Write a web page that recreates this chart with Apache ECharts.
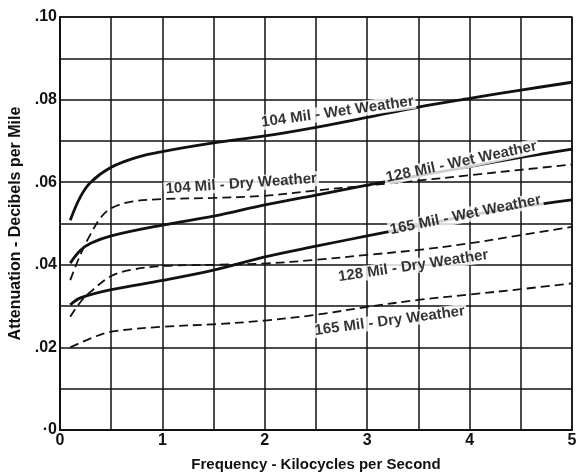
<!DOCTYPE html>
<html>
<head>
<meta charset="utf-8">
<script src="https://cdn.jsdelivr.net/npm/echarts@6/dist/echarts.min.js"></script>
<style>
  html, body { margin: 0; padding: 0; background: #fff; }
  #chart { width: 576px; height: 474px; }
</style>
</head>
<body>
<div id="chart"></div>
<script>
// frequency (kc) / attenuation (db per mile)
var wet104 = [[0.1,0.0508],[0.2,0.0565],[0.3,0.0600],[0.5,0.0636],[0.75,0.0660],[1,0.0674],[1.5,0.0695],[2,0.0712],[2.5,0.0733],[3,0.0757],[3.5,0.0782],[4,0.0803],[4.5,0.0823],[5,0.0842]];
var dry104 = [[0.1,0.0363],[0.2,0.0425],[0.3,0.0475],[0.4,0.0515],[0.5,0.0537],[0.7,0.0553],[1,0.0559],[1.5,0.0562],[2,0.0567],[2.5,0.0580],[3,0.0592],[3.5,0.0604],[4,0.0617],[4.5,0.0630],[5,0.0643]];
var wet128 = [[0.1,0.0404],[0.2,0.0435],[0.3,0.0452],[0.5,0.0470],[1,0.0496],[1.5,0.0518],[2,0.0545],[2.5,0.0569],[3,0.0593],[3.5,0.0616],[4,0.0638],[4.5,0.0660],[5,0.0680]];
var dry128 = [[0.1,0.0274],[0.2,0.0310],[0.3,0.0335],[0.5,0.0373],[0.7,0.0388],[1,0.0397],[1.5,0.0400],[2,0.0403],[2.5,0.0412],[3,0.0424],[3.5,0.0436],[4,0.0452],[4.5,0.0472],[5,0.0492]];
var wet165 = [[0.1,0.0303],[0.2,0.0320],[0.5,0.0340],[1,0.0362],[1.5,0.0387],[2,0.0419],[2.5,0.0445],[3,0.0470],[3.5,0.0494],[4,0.0520],[4.5,0.0540],[5,0.0557]];
var dry165 = [[0.1,0.0200],[0.3,0.0222],[0.5,0.0238],[1,0.0250],[1.5,0.0256],[2,0.0265],[2.5,0.0279],[3,0.0298],[3.5,0.0315],[4,0.0328],[4.5,0.0341],[5,0.0355]];

var yTickLabels = {'0.1': '.10', '0.08': '.08', '0.06': '.06', '0.04': '.04', '0.02': '.02', '0': '·0'};
var xTickLabels = {'0': '0', '1': '1', '2': '2', '3': '3', '4': '4', '5': '5'};

// curve captions: text, x, y, tilt
var captionText = ['104 Mil - Wet Weather', '104 Mil - Dry Weather', '128 Mil - Wet Weather', '165 Mil - Wet Weather', '128 Mil - Dry Weather', '165 Mil - Dry Weather'];
var captionX = [2.71, 1.77, 3.92, 3.96, 3.45, 3.22];
var captionY = [0.0770, 0.0596, 0.0649, 0.0521, 0.0397, 0.0264];
var captionRot = [8, 4, 12, 11.5, 8.5, 7.5];

var font = "'Liberation Sans', Arial, sans-serif";
var ink = '#111';

var chart = echarts.init(document.getElementById('chart'));

function curve(name, data, dashed) {
	return {
		name: name,
		type: 'line',
		data: data,
		smooth: 0.35,
		symbol: 'none',
		z: 3,
		lineStyle: {
			color: ink,
			width: dashed ? 1.8 : 2.8,
			type: dashed ? [9, 5] : 'solid'
		}
	};
}

var captionData = [];
for (var i = 0; i < captionText.length; i++) {
	captionData.push({
		value: [captionX[i], captionY[i]],
		label: {
			show: true,
			formatter: captionText[i],
			rotate: captionRot[i],
			position: 'inside'
		}
	});
}

var option = {
	backgroundColor: '#fff',
	animation: false,
	grid: {
		left: 60, right: 4, top: 17, bottom: 44,
		outerBoundsMode: 'none',
		containLabel: false,
		show: true,
		borderColor: ink,
		borderWidth: 1.5
	},
	xAxis: {
		type: 'value',
		min: 0, max: 5, interval: 0.5,
		name: 'Frequency - Kilocycles per Second',
		nameLocation: 'middle',
		nameGap: 27,
		nameTextStyle: { color: ink, fontFamily: font, fontWeight: 'bold', fontSize: 15 },
		axisLine: { show: true, lineStyle: { color: ink, width: 2 } },
		axisTick: { show: false },
		axisLabel: {
			color: ink, fontFamily: font, fontWeight: 'bold', fontSize: 16, margin: 3,
			formatter: function(v) { var k = String(v); return xTickLabels[k] !== undefined ? xTickLabels[k] : ''; }
		},
		splitLine: { show: true, lineStyle: { color: ink, width: 1.5 } }
	},
	yAxis: {
		type: 'value',
		min: 0, max: 0.1, interval: 0.01,
		name: 'Attenuation - Decibels per Mile',
		nameLocation: 'middle',
		nameGap: 36,
		nameTextStyle: { color: ink, fontFamily: font, fontWeight: 'bold', fontSize: 16 },
		axisLine: { show: true, lineStyle: { color: ink, width: 2 } },
		axisTick: { show: false },
		axisLabel: {
			color: ink, fontFamily: font, fontWeight: 'bold', fontSize: 16, margin: 3,
			formatter: function(v) { var k = String(Math.round(v * 100) / 100); return yTickLabels[k] !== undefined ? yTickLabels[k] : ''; }
		},
		splitLine: { show: true, lineStyle: { color: ink, width: 1.5 } }
	},
	series: [
		curve('104 Mil - Wet Weather', wet104, false),
		curve('104 Mil - Dry Weather', dry104, true),
		curve('128 Mil - Wet Weather', wet128, false),
		curve('128 Mil - Dry Weather', dry128, true),
		curve('165 Mil - Wet Weather', wet165, false),
		curve('165 Mil - Dry Weather', dry165, true),
		{
			name: 'captions',
			type: 'scatter',
			symbolSize: 0,
			z: 5,
			data: captionData,
			label: {
				color: '#000',
				fontFamily: font,
				fontWeight: 'bold',
				fontSize: 15,
				backgroundColor: '#fff',
				padding: [0, 2]
			}
		}
	]
};

chart.setOption(option);
</script>
</body>
</html>
